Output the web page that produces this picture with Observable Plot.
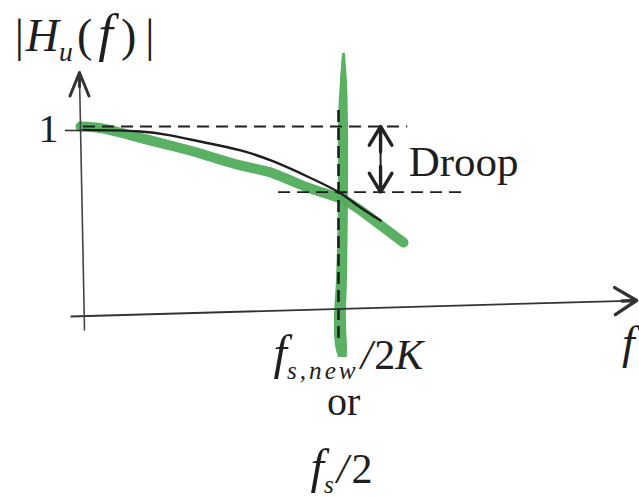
<!DOCTYPE html>
<html>
<head>
<meta charset="utf-8">
<script src="https://cdn.jsdelivr.net/npm/d3@7"></script>
<script src="https://cdn.jsdelivr.net/npm/@observablehq/plot@0.6"></script>
<style>
  html, body { margin: 0; padding: 0; background: #fff; }
  #chart svg { display: block; }
</style>
</head>
<body>
<div id="chart"></div>
<script>
// Normalised frequency f / (fs,new/2K) and magnitude |Hu(f)|
const idealFreq = [0, 0.212, 0.341, 0.471, 0.616, 0.745, 0.878, 1.0, 1.075, 1.165];
const idealMag  = [0.982, 0.975, 0.953, 0.917, 0.874, 0.816, 0.737, 0.655, 0.584, 0.505];

// Hand-traced highlight of the response
const traceFreq = [-0.012, 0.078, 0.212, 0.341, 0.471, 0.616, 0.745, 0.878, 1.008, 1.114, 1.255];
const traceMag  = [1.0, 0.989, 0.944, 0.9, 0.853, 0.795, 0.753, 0.679, 0.621, 0.532, 0.389];

// Highlight marker at the band edge (left / right edge per height)
const markMag   = [1.384, 1.242, 1.032, 0.611, 0.189, -0.021, -0.153, -0.216];
const markLeft  = [1.016, 1.008, 1.0, 1.0, 0.992, 0.984, 0.988, 1.0];
const markRight = [1.027, 1.035, 1.039, 1.039, 1.035, 1.031, 1.035, 1.035];

// Reference levels
const unityGain = 1;
const droopLevel = 0.655;
const bandEdge = 1;

// Axes (start / end points)
const xAxisFrom = [-0.051, 0], xAxisTo = [2.169, 0.084];
const yAxisFrom = [0.004, -0.074], yAxisTo = [-0.016, 1.284];

// Text
const yTickLabel = "1";
const droopLabel = "Droop";
const orLabel = "or";
const xName = "f";
const titleSegs = [{t: "|"}, {t: "H", i: 1, dx: 2}, {t: "u", i: 1, sub: 1}, {t: "(", dx: 4}, {t: "f", i: 1, dx: 6, big: 1}, {t: ")", dx: 8}, {t: "|", dx: 9}];
const edgeSegs = [{t: "f", i: 1, big: 1}, {t: "s,new", i: 1, sub: 1, ls: 3}, {t: "/", i: 1, dx: 2}, {t: "2", dx: 2}, {t: "K", i: 1}];
const altSegs = [{t: "f", i: 1, big: 1}, {t: "s", i: 1, sub: 1}, {t: "/", i: 1, dx: 3}, {t: "2", dx: 3}];
const join = segs => segs.map(s => s.t).join("");

const ideal = idealFreq.map((f, k) => ({f, m: idealMag[k]}));
const trace = traceFreq.map((f, k) => ({f, m: traceMag[k]}));
const marker = markMag.map((m, k) => ({m, l: markLeft[k], r: markRight[k]}));

const serif = "'Liberation Serif', 'Times New Roman', serif";
const green = "#52ad5b";
const ink = "#1e1e1e";

// the bold arrowheads are drawn on a short stretch of each axis near its tip;
// insetStart trims that stretch's shaft so only the head shows heavy
const xHeadFrom = [xAxisTo[0] - 0.3, xAxisTo[1] - 0.011];
const yHeadFrom = [yAxisTo[0] + 0.001, yAxisTo[1] - 0.4];

const plot = Plot.plot({
  width: 639,
  height: 498,
  x: {domain: [0, 1], range: [83, 338], axis: null},
  y: {domain: [0, 1], range: [316, 126], axis: null},
  style: {background: "#fff", fontFamily: serif},
  marks: [
    // green highlight of the curve
    Plot.line(trace, {x: "f", y: "m", stroke: green, strokeWidth: 10, strokeLinecap: "round", curve: "natural", strokeOpacity: 0.95}),
    // green band-edge marker
    Plot.areaX(marker, {y: "m", x1: "l", x2: "r", fill: green, curve: "catmull-rom", fillOpacity: 0.95}),
    // ideal response
    Plot.line(ideal, {x: "f", y: "m", stroke: ink, strokeWidth: 2.4, curve: "natural"}),
    // dashed reference lines
    Plot.ruleY([unityGain], {x1: 0, x2: 1.271, stroke: ink, strokeWidth: 2, strokeDasharray: "12,7"}),
    Plot.ruleY([droopLevel], {x1: 0.765, x2: 1.506, stroke: ink, strokeWidth: 1.8, strokeDasharray: "12,7"}),
    Plot.ruleX([bandEdge], {y1: -0.116, y2: 1.095, stroke: ink, strokeWidth: 2.6, strokeDasharray: "12,6"}),
    // droop arrow (double headed): one arrow each way along the same span
    Plot.link([0], {x1: 1.165, x2: 1.165, y1: unityGain, y2: droopLevel, stroke: "#222", strokeWidth: 2}),
    Plot.arrow([[droopLevel, unityGain], [unityGain, droopLevel]], {
      x1: 1.165, x2: 1.165, y1: d => d[0], y2: d => d[1],
      stroke: "#222", strokeWidth: 3.4, headLength: 19, headAngle: 62, insetStart: 40
    }),
    // axes
    Plot.link([0], {x1: xAxisFrom[0], y1: xAxisFrom[1], x2: xAxisTo[0], y2: xAxisTo[1], stroke: "#333", strokeWidth: 1.8}),
    Plot.arrow([0], {x1: xHeadFrom[0], y1: xHeadFrom[1], x2: xAxisTo[0], y2: xAxisTo[1], stroke: "#333", strokeWidth: 3.4, headLength: 20, headAngle: 64, insetStart: 62}),
    Plot.link([0], {x1: yAxisFrom[0], y1: yAxisFrom[1], x2: yAxisTo[0], y2: yAxisTo[1], stroke: "#444", strokeWidth: 1.6}),
    Plot.arrow([0], {x1: yHeadFrom[0], y1: yHeadFrom[1], x2: yAxisTo[0], y2: yAxisTo[1], stroke: "#333", strokeWidth: 3, headLength: 22, headAngle: 44, insetStart: 62}),
    // tick at unity gain
    Plot.ruleY([0.979], {x1: -0.071, x2: 0, stroke: "#333", strokeWidth: 1.6}),
    // labels
    Plot.text([yTickLabel], {x: -0.098, y: 0.916, text: d => d, textAnchor: "end", lineAnchor: "bottom", fontSize: 40, fill: ink}),
    Plot.text([join(titleSegs)], {x: -0.27, y: 1.4, text: d => d, textAnchor: "start", lineAnchor: "bottom", fontSize: 46, fill: ink}),
    Plot.text([droopLabel], {x: 1.275, y: 0.742, text: d => d, textAnchor: "start", lineAnchor: "bottom", fontSize: 43, fill: ink}),
    Plot.text([join(edgeSegs)], {x: 1.039, y: -0.274, text: d => d, textAnchor: "middle", lineAnchor: "bottom", fontSize: 42, fill: ink}),
    Plot.text([orLabel], {x: 1.02, y: -0.521, text: d => d, textAnchor: "middle", lineAnchor: "bottom", fontSize: 40, fill: ink}),
    Plot.text([join(altSegs)], {x: 1.012, y: -0.874, text: d => d, textAnchor: "middle", lineAnchor: "bottom", fontSize: 42, fill: ink}),
    Plot.text([xName], {x: 2.137, y: -0.221, text: d => d, textAnchor: "middle", lineAnchor: "bottom", fontSize: 46, fontStyle: "italic", fill: ink})
  ]
});

// Turn plain labels into italic / subscripted math-style text
function richText(svg, segs) {
  const label = join(segs);
  const ns = "http://www.w3.org/2000/svg";
  svg.querySelectorAll("text").forEach(t => {
    if (t.textContent !== label) return;
    while (t.firstChild) t.removeChild(t.firstChild);
    let shift = 0;
    for (const s of segs) {
      const ts = document.createElementNS(ns, "tspan");
      ts.textContent = s.t;
      if (s.i) ts.setAttribute("font-style", "italic");
      const target = s.sub ? 10 : 0;
      if (target !== shift) ts.setAttribute("dy", target - shift);
      shift = target;
      if (s.sub) ts.setAttribute("font-size", "0.6em");
      if (s.big) ts.setAttribute("font-size", "1.15em");
      if (s.dx) ts.setAttribute("dx", s.dx);
      if (s.ls) ts.setAttribute("letter-spacing", s.ls);
      t.appendChild(ts);
    }
  });
}
richText(plot, titleSegs);
richText(plot, edgeSegs);
richText(plot, altSegs);

document.getElementById("chart").appendChild(plot);
</script>
</body>
</html>
